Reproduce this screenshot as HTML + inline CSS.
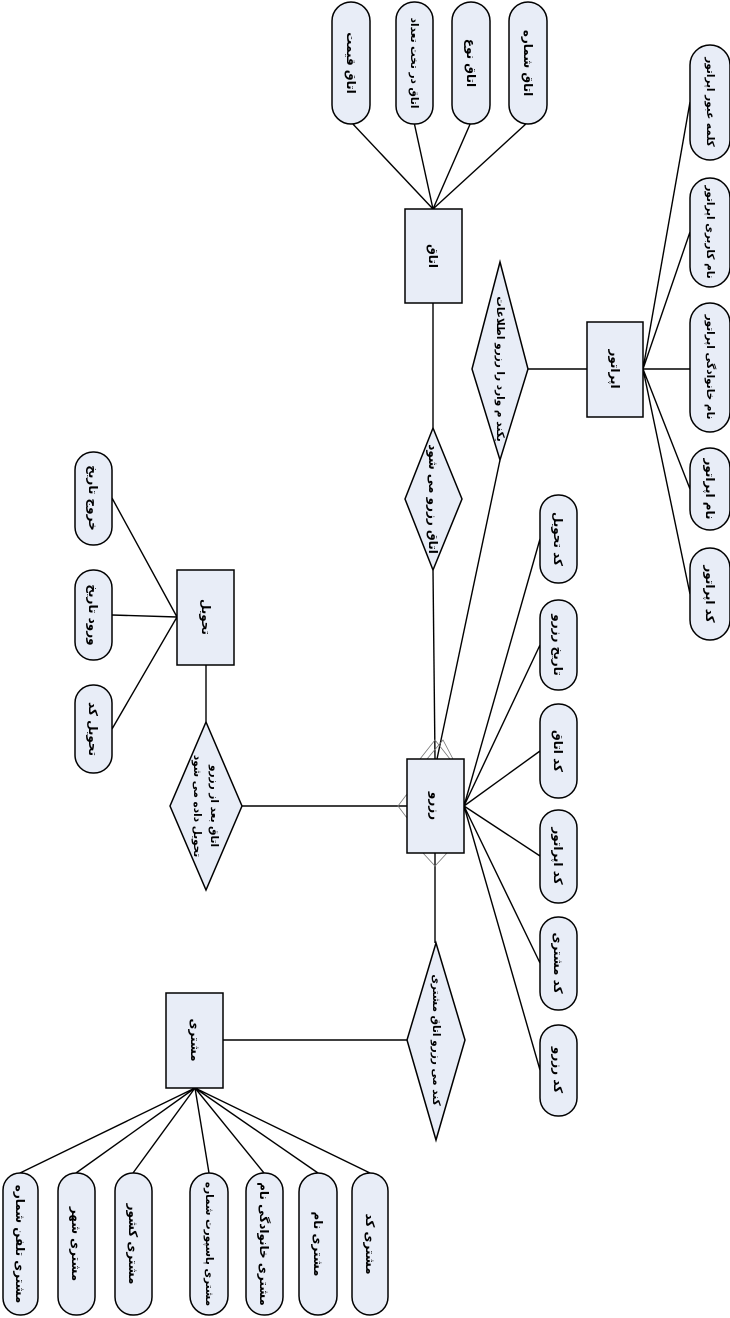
<!DOCTYPE html>
<html><head><meta charset="utf-8"><style>
html,body{margin:0;padding:0;background:#fff;}
svg{display:block;}
text{font-family:"DejaVu Sans",sans-serif;font-weight:bold;font-size:12px;fill:#000;}
.sm{font-size:10.5px;}
.s{fill:#e8edf7;stroke:#000;stroke-width:1.5;}
.l{stroke:#000;stroke-width:1.4;fill:none;}
.c{stroke:#777;stroke-width:0.8;fill:none;}
</style></head><body>
<svg width="730" height="1318" viewBox="0 0 730 1318" xmlns="http://www.w3.org/2000/svg">
<g class="l">
<line x1="351" y1="122" x2="433" y2="209"/>
<line x1="414" y1="122" x2="433" y2="209"/>
<line x1="471" y1="122" x2="433" y2="209"/>
<line x1="528" y1="122" x2="433" y2="209"/>
<line x1="433" y1="303" x2="433" y2="428"/>
<line x1="433" y1="570" x2="435" y2="759"/>
<line x1="528" y1="369" x2="587" y2="369"/>
<line x1="500" y1="460" x2="437" y2="759"/>
<line x1="643" y1="369" x2="690" y2="102"/>
<line x1="643" y1="369" x2="690" y2="232"/>
<line x1="643" y1="369" x2="690" y2="369"/>
<line x1="643" y1="369" x2="690" y2="489"/>
<line x1="643" y1="369" x2="690" y2="594"/>
<line x1="464" y1="806" x2="540" y2="539"/>
<line x1="464" y1="806" x2="540" y2="645"/>
<line x1="464" y1="806" x2="540" y2="751"/>
<line x1="464" y1="806" x2="540" y2="856"/>
<line x1="464" y1="806" x2="540" y2="963"/>
<line x1="464" y1="806" x2="540" y2="1070"/>
<line x1="112" y1="498" x2="177" y2="617"/>
<line x1="112" y1="615" x2="177" y2="617"/>
<line x1="112" y1="729" x2="177" y2="617"/>
<line x1="206" y1="665" x2="206" y2="722"/>
<line x1="242" y1="806" x2="407" y2="806"/>
<line x1="435" y1="853" x2="435" y2="943"/>
<line x1="407" y1="1040" x2="223" y2="1040"/>
<line x1="195" y1="1088" x2="20" y2="1173"/>
<line x1="195" y1="1088" x2="76" y2="1173"/>
<line x1="195" y1="1088" x2="133" y2="1173"/>
<line x1="195" y1="1088" x2="209" y2="1173"/>
<line x1="195" y1="1088" x2="264" y2="1173"/>
<line x1="195" y1="1088" x2="318" y2="1173"/>
<line x1="195" y1="1088" x2="370" y2="1173"/>
</g>
<g class="c">
<polyline points="420,759 435,740 450,759"/>
<polyline points="427,759 443,740 453,759"/>
<polyline points="407,794 398,806 407,818"/>
<polyline points="423,853 435,866 447,853"/>
</g>
<rect class="s" x="405" y="209" width="57" height="94"/>
<rect class="s" x="587" y="322" width="56" height="95"/>
<rect class="s" x="407" y="759" width="57" height="94"/>
<rect class="s" x="177" y="570" width="57" height="95"/>
<rect class="s" x="166" y="993" width="57" height="95"/>
<polygon class="s" points="433,428 462,499 433,570 405,499"/>
<polygon class="s" points="500,262 528,369 500,460 472,369"/>
<polygon class="s" points="206,722 242,806 206,890 170,806"/>
<polygon class="s" points="436,943 465,1040 436,1140 407,1040"/>
<g class="s">
<rect x="332" y="2" width="38" height="122" rx="19"/>
<rect x="396" y="2" width="37" height="122" rx="18"/>
<rect x="452" y="2" width="38" height="122" rx="19"/>
<rect x="509" y="2" width="38" height="122" rx="19"/>
<rect x="690" y="45" width="40" height="115" rx="20"/>
<rect x="690" y="178" width="40" height="109" rx="20"/>
<rect x="690" y="303" width="40" height="129" rx="20"/>
<rect x="690" y="448" width="40" height="82" rx="20"/>
<rect x="690" y="548" width="40" height="92" rx="20"/>
<rect x="540" y="495" width="37" height="88" rx="18"/>
<rect x="540" y="600" width="37" height="90" rx="18"/>
<rect x="540" y="704" width="37" height="94" rx="18"/>
<rect x="540" y="810" width="37" height="93" rx="18"/>
<rect x="540" y="917" width="37" height="93" rx="18"/>
<rect x="540" y="1025" width="37" height="91" rx="18"/>
<rect x="75" y="452" width="37" height="93" rx="18"/>
<rect x="75" y="570" width="37" height="90" rx="18"/>
<rect x="75" y="685" width="37" height="88" rx="18"/>
<rect x="3" y="1173" width="35" height="142" rx="17"/>
<rect x="58" y="1173" width="37" height="142" rx="18"/>
<rect x="115" y="1173" width="37" height="142" rx="18"/>
<rect x="190" y="1173" width="38" height="142" rx="19"/>
<rect x="246" y="1173" width="37" height="142" rx="18"/>
<rect x="299" y="1173" width="38" height="142" rx="19"/>
<rect x="352" y="1173" width="36" height="142" rx="18"/>
</g>
<g text-anchor="middle" dominant-baseline="central">
<text transform="translate(433,256) rotate(90)">اتاق</text>
<text transform="translate(615,369) rotate(90)">اپراتور</text>
<text transform="translate(435,806) rotate(90)">رزرو</text>
<text transform="translate(206,617) rotate(90)">تحویل</text>
<text transform="translate(195,1040) rotate(90)">مشتری</text>
<text transform="translate(433,499) rotate(90)">اتاق رزرو می شود</text>
<text class="sm" transform="translate(500,369) rotate(90)">یکند م وارد را رزرو اطلاعات</text>
<text class="sm" transform="translate(214,806) rotate(90)">اتاق بعد از رزرو</text>
<text class="sm" transform="translate(197,806) rotate(90)">تحویل داده می شود</text>
<text class="sm" transform="translate(436,1040) rotate(90)">کند می رزرو اتاق مشتری</text>
<text transform="translate(351,63) rotate(90)">اتاق قیمت</text>
<text class="sm" transform="translate(414,63) rotate(90)">اتاق در تخت تعداد</text>
<text transform="translate(471,63) rotate(90)">اتاق نوع</text>
<text transform="translate(528,63) rotate(90)">اتاق شماره</text>
<text class="sm" transform="translate(710,102) rotate(90)">کلمه عبور اپراتور</text>
<text class="sm" transform="translate(710,232) rotate(90)">نام کاربری اپراتور</text>
<text class="sm" transform="translate(710,367) rotate(90)">نام خانوادگی اپراتور</text>
<text transform="translate(710,489) rotate(90)">نام اپراتور</text>
<text transform="translate(710,594) rotate(90)">کد اپراتور</text>
<text transform="translate(558,539) rotate(90)">کد تحویل</text>
<text transform="translate(558,645) rotate(90)">تاریخ رزرو</text>
<text transform="translate(558,751) rotate(90)">کد اتاق</text>
<text transform="translate(558,856) rotate(90)">کد اپراتور</text>
<text transform="translate(558,963) rotate(90)">کد مشتری</text>
<text transform="translate(558,1070) rotate(90)">کد رزرو</text>
<text transform="translate(93,498) rotate(90)">خروج تاریخ</text>
<text transform="translate(93,615) rotate(90)">ورود تاریخ</text>
<text transform="translate(93,729) rotate(90)">تحویل کد</text>
<text transform="translate(20,1244) rotate(90)">مشتری تلفن شماره</text>
<text transform="translate(76,1244) rotate(90)">مشتری شهر</text>
<text transform="translate(133,1244) rotate(90)">مشتری کشور</text>
<text class="sm" transform="translate(209,1244) rotate(90)">مشتری پاسپورت شماره</text>
<text transform="translate(264,1244) rotate(90)">مشتری خانوادگی نام</text>
<text transform="translate(318,1244) rotate(90)">مشتری نام</text>
<text transform="translate(370,1244) rotate(90)">مشتری کد</text>
</g>
</svg>
</body></html>
